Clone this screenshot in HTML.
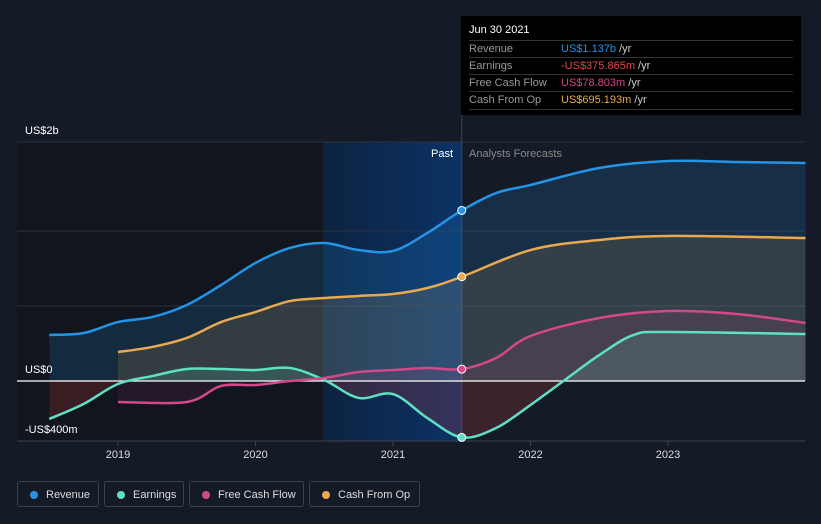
<!DOCTYPE html>
<html><head><meta charset="utf-8"><style>
body{margin:0;background:#151b26;font-family:"Liberation Sans",sans-serif;}
#wrap{position:relative;width:821px;height:524px;overflow:hidden;background:#151b26}
.tt{position:absolute;left:461px;top:16px;width:340px;height:99px;background:#000;color:#fff;font-size:11px}
.tt .row{position:absolute;left:8px;right:8px;border-top:1px solid #333;height:17px;line-height:17px;color:#999}
.tt .row span{position:absolute;left:92px}
.legend{position:absolute;top:481px;height:26px;border:1px solid #3a4150;border-radius:3px;color:#ddd;font-size:11px;line-height:26px;padding-left:28px;box-sizing:border-box}
.legend i{position:absolute;left:12px;top:9px;width:8px;height:8px;border-radius:50%}
</style></head><body>
<div id="wrap">
<svg id="svg" width="821" height="524" style="position:absolute;left:0;top:0"></svg>
<div class="tt">
<div style="position:absolute;left:8px;top:8px;font-size:11px;color:#fff">Jun 30 2021</div>
<div class="row" style="top:24px">Revenue<span style="color:#2394e6">US$1.137b <b style="color:#ccc;font-weight:normal">/yr</b></span></div>
<div class="row" style="top:41px">Earnings<span style="color:#e8474a">-US$375.865m <b style="color:#ccc;font-weight:normal">/yr</b></span></div>
<div class="row" style="top:58px">Free Cash Flow<span style="color:#d2488a">US$78.803m <b style="color:#ccc;font-weight:normal">/yr</b></span></div>
<div class="row" style="top:75px;border-bottom:1px solid #333">Cash From Op<span style="color:#e9a950">US$695.193m <b style="color:#ccc;font-weight:normal">/yr</b></span></div>
</div>
<div class="legend" style="left:17px;width:82px"><i style="background:#2394e6"></i>Revenue</div>
<div class="legend" style="left:104px;width:80px"><i style="background:#5fe0c3"></i>Earnings</div>
<div class="legend" style="left:189px;width:115px"><i style="background:#d2488a"></i>Free Cash Flow</div>
<div class="legend" style="left:309px;width:111px"><i style="background:#e9a950"></i>Cash From Op</div>
</div>
<script>
const revT=[2018.5,2018.75,2019,2019.25,2019.5,2019.75,2020,2020.25,2020.5,2020.75,2021,2021.25,2021.5,2021.75,2022,2022.5,2023,2023.5,2024];
const revV=[307,320,393,427,507,640,787,887,920,873,867,987,1137,1253,1307,1420,1467,1460,1453];
const cfoT=[2019,2019.25,2019.5,2019.75,2020,2020.25,2020.5,2020.75,2021,2021.25,2021.5,2022,2022.5,2023,2024];
const cfoV=[193,227,287,393,460,533,553,567,580,620,695,873,940,967,953];
const earT=[2018.5,2018.75,2019,2019.25,2019.5,2019.75,2020,2020.25,2020.5,2020.75,2021,2021.25,2021.5,2021.75,2022,2022.25,2022.5,2022.75,2023,2024];
const earV=[-253,-153,-20,33,80,80,73,87,7,-113,-87,-247,-376,-313,-160,7,173,307,327,313];
const fcfT=[2019,2019.5,2019.75,2020,2020.25,2020.5,2020.75,2021,2021.25,2021.5,2021.75,2022,2022.5,2023,2023.5,2024];
const fcfV=[-140,-140,-33,-27,0,20,60,73,87,79,153,300,420,467,447,387];
const xTicks=[2019,2020,2021,2022,2023];
const NOW=2021.5;
const X=t=>118+(t-2019)*137.5, Y=v=>381-v*0.15;
const svg=document.getElementById('svg'),NS='http://www.w3.org/2000/svg';
function el(tag,at,parent){const e=document.createElementNS(NS,tag);for(const k in at)e.setAttribute(k,at[k]);(parent||svg).appendChild(e);return e;}
function path(ts,vs){const p=ts.map((t,i)=>[X(t),Y(vs[i])]);let d='M'+p[0][0]+','+p[0][1];
for(let i=0;i<p.length-1;i++){const p0=p[i-1]||p[i],p1=p[i],p2=p[i+1],p3=p[i+2]||p2;
d+=' C'+(p1[0]+(p2[0]-p0[0])/6)+','+(p1[1]+(p2[1]-p0[1])/6)+' '+(p2[0]-(p3[0]-p1[0])/6)+','+(p2[1]-(p3[1]-p1[1])/6)+' '+p2[0]+','+p2[1];}return d;}
let r=el('rect',{x:17,y:142,width:306,height:299,fill:'#11151d'});
const defs=el('defs',{});const g=el('linearGradient',{id:'pg',x1:0,x2:1,y1:0,y2:0},defs);
el('stop',{offset:0,'stop-color':'#0d2340'},g);el('stop',{offset:1,'stop-color':'#0c3266'},g);
const cpPos=el('clipPath',{id:'cpos'},defs);el('rect',{x:0,y:0,width:821,height:Y(0)},cpPos);
const cpNeg=el('clipPath',{id:'cneg'},defs);el('rect',{x:0,y:Y(0),width:821,height:200},cpNeg);
r=el('rect',{x:323,y:142,width:X(NOW)-323,height:299,fill:'url(#pg)'});
[142,231,306].forEach(y=>{const l=el('line',{x1:17,x2:805,y1:y,y2:y,stroke:'#2b3340'});});
let l=el('line',{x1:17,x2:805,y1:441,y2:441,stroke:'#3a4250'});
l=el('line',{x1:X(NOW),x2:X(NOW),y1:16,y2:441,stroke:'#2a4a70'});
const S=[['revenue',revT,revV,'#2394e6','rgba(35,148,230,0.17)','rgba(35,148,230,0.17)'],['cash-from-op',cfoT,cfoV,'#e9a950','rgba(233,169,80,0.14)','rgba(233,169,80,0.14)'],['earnings',earT,earV,'#5fe0c3','rgba(95,224,195,0.16)','rgba(200,60,60,0.22)'],['free-cash-flow',fcfT,fcfV,'#d2488a','rgba(210,72,138,0.12)','rgba(210,72,138,0.10)']];
S.forEach(([n,ts,vs,c,fp,fn])=>{const d=path(ts,vs)+' L'+X(ts[ts.length-1])+','+Y(0)+' L'+X(ts[0])+','+Y(0)+'Z';
let a=el('path',{d,fill:fp,'clip-path':'url(#cpos)'});
a=el('path',{d,fill:fn,'clip-path':'url(#cneg)'});});
l=el('line',{x1:17,x2:805,y1:381,y2:381,stroke:'#fff','stroke-width':1.2});
S.forEach(([n,ts,vs,c])=>{let p=el('path',{d:path(ts,vs),fill:'none',stroke:c,'stroke-width':2.5});
const i=ts.indexOf(NOW);const dt=el('circle',{cx:X(NOW),cy:Y(vs[i]),r:4,fill:c,stroke:'#fff','stroke-width':1});});
function txt(x,y,s,fill,anchor,name){const t=el('text',{x,y,fill,'font-size':11,'text-anchor':anchor||'start'});t.textContent=s;}
txt(25,134,'US$2b','#fff','start','y-label-top');txt(25,373,'US$0','#fff','start','y-label-zero');txt(25,433,'-US$400m','#fff','start','y-label-bottom');
txt(453,157,'Past','#fff','end','past-label');txt(469,157,'Analysts Forecasts','#888','start','forecast-label');
xTicks.forEach(t=>{let k=el('line',{x1:X(t),x2:X(t),y1:441,y2:446,stroke:'#3a4250'});txt(X(t),458,String(t),'#ddd','middle','x-tick-label');});
</script>
</body></html>
